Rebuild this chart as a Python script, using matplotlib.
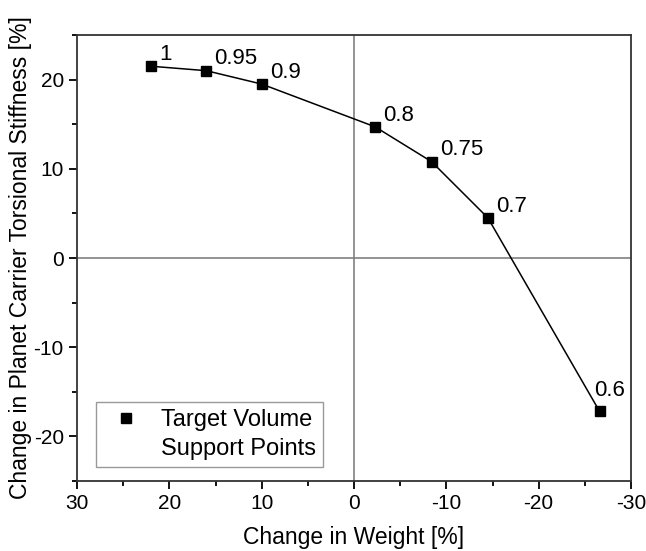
import numpy as np
import matplotlib.pyplot as plt
from matplotlib.lines import Line2D
from matplotlib.ticker import MultipleLocator

plt.rcParams['font.family'] = ['Liberation Sans', 'DejaVu Sans']
plt.rcParams['axes.unicode_minus'] = False

weight = [22.0, 16.0, 10.0, -2.3, -8.4, -14.5, -26.6]
stiffness = [21.5, 21.0, 19.5, 14.7, 10.8, 4.5, -17.2]
labels = ['1', '0.95', '0.9', '0.8', '0.75', '0.7', '0.6']
# label offsets in points (last one sits up-left to stay inside the frame)
offsets = [(6, 4.5)] * 6 + [(-3.6, 11)]

fig = plt.figure(figsize=(6.46, 5.51), dpi=100)
ax = fig.add_axes([77/646, 1 - 481/551, 554/646, 446/551])

ax.axhline(0, color='#808080', linewidth=1.2, zorder=1)
ax.axvline(0, color='#808080', linewidth=1.2, zorder=1)
ax.plot(weight, stiffness, '-', color='black', linewidth=1.1, zorder=2)
pts, = ax.plot(weight, stiffness, 's', color='black', markersize=6.5, zorder=3)

for x, y, t, off in zip(weight, stiffness, labels, offsets):
	ax.annotate(t, (x, y), xytext=off, textcoords='offset points',
		fontsize=16, ha='left', va='baseline')

ax.set_xlim(30, -30)
ax.set_ylim(-25, 25)
ax.xaxis.set_major_locator(MultipleLocator(10))
ax.xaxis.set_minor_locator(MultipleLocator(5))
ax.yaxis.set_major_locator(MultipleLocator(10))
ax.yaxis.set_minor_locator(MultipleLocator(5))
ax.tick_params(which='major', direction='out', length=6, width=1.3, labelsize=15)
ax.tick_params(which='minor', direction='out', length=3.5, width=1.3)
for s in ax.spines.values():
	s.set_linewidth(1.3)
	s.set_color('#333333')

ax.set_xlabel('Change in Weight [%]', fontsize=16.5, labelpad=9)
ax.set_ylabel('Change in Planet Carrier Torsional Stiffness [%]', fontsize=16.5, labelpad=1)

blank = Line2D([], [], linestyle='none', marker='none')
leg = ax.legend([pts, blank], ['Target Volume', 'Support Points'],
	loc='lower left', bbox_to_anchor=(0.034, 0.031), fontsize=17,
	frameon=True, fancybox=False, edgecolor='#808080', handlelength=1.95,
	handletextpad=0.5, borderpad=0.3, labelspacing=0.3, borderaxespad=0)
leg.get_frame().set_linewidth(1.0)

fig.savefig('out.png', dpi=100)
